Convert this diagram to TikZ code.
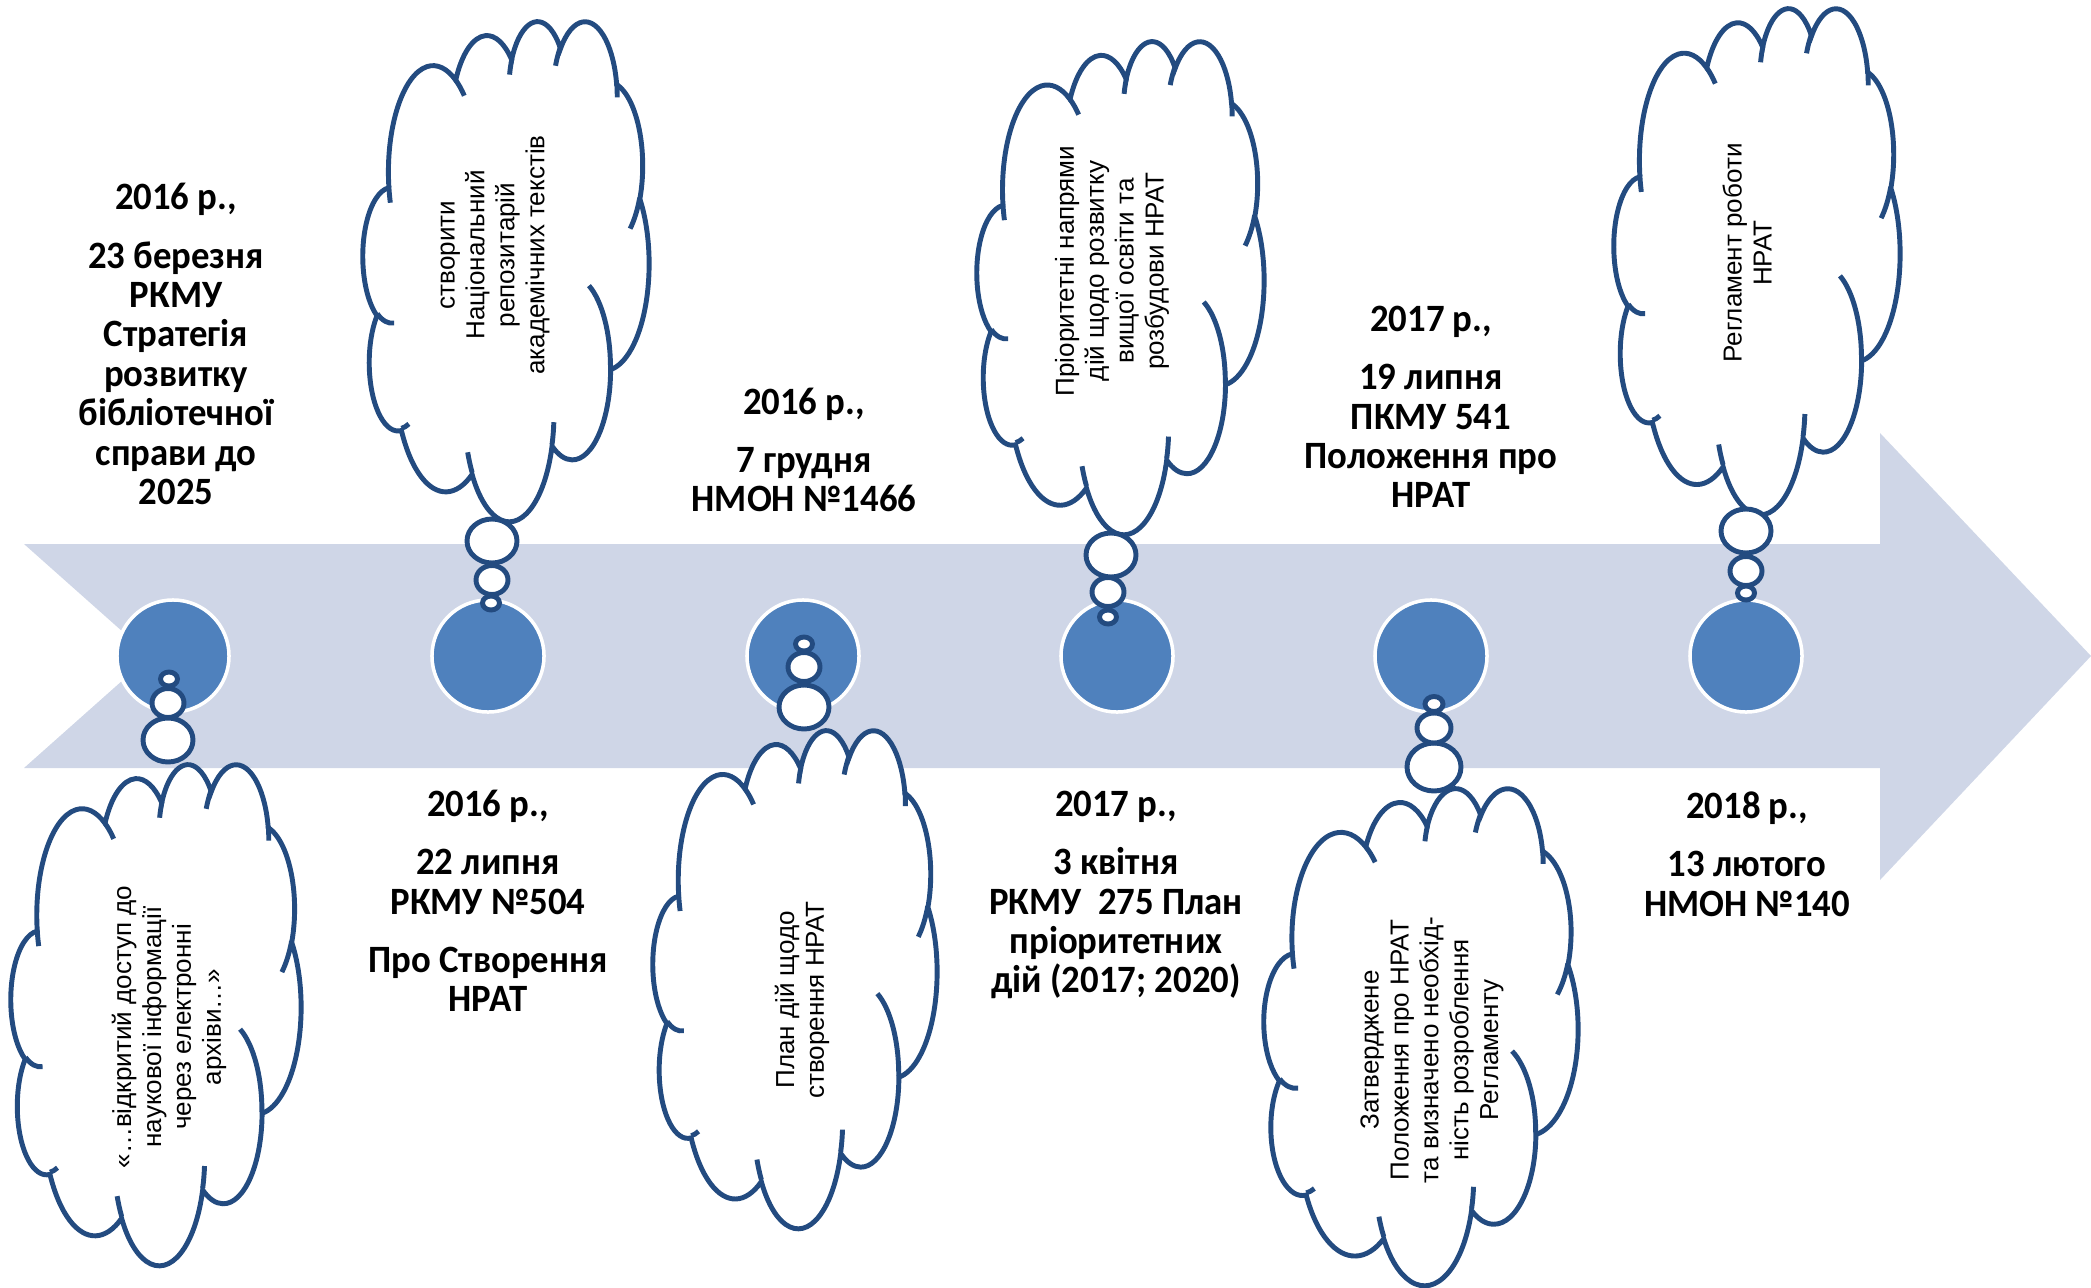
\documentclass[tikz,border=0pt]{standalone}
\usepackage{fontspec}
\newfontfamily\datefont{Carlito}[FakeStretch=0.95]
\newfontfamily\cloudfont{Liberation Sans}
\usepackage{tikz}
\usetikzlibrary{calc}
\definecolor{bandblue}{RGB}{207,214,231}
\definecolor{dotblue}{RGB}{79,129,189}
\definecolor{cloudblue}{RGB}{35,75,128}
\tikzset{
	cloud line/.style={draw=cloudblue, line width=1.4pt},
	dot/.style={circle, fill=dotblue, draw=white, line width=1pt, minimum size=1.12cm, inner sep=0pt},
	datelbl/.style={align=center, font=\datefont\bfseries\fontsize{11}{11.2}\selectfont},
	thought/.style={align=center, rotate=90, font=\cloudfont\fontsize{7.4}{8.5}\selectfont}
}
% cloud in a 432 x 432 box, top-left corner (#1,#2), size (#3,#4)
\def\nratcloud(#1,#2)(#3,#4){%
	\begin{scope}[shift={(#1,#2)}, xscale=#3/432, yscale=#4/432]
		\draw[cloud line, fill=white] (39,143.7)
			\foreach \rx/\ry/\sa/\sw in {67.53/91.90/-190.4875/123.7805, 53.33/72.67/-144.1024/89.9452,
				43.65/59.45/-145.8079/99.7230, 48.57/65.95/-130.9861/117.2417, 53.33/72.73/-78.7089/109.0269,
				67.75/92.20/-46.2673/130.2690, 57.85/78.67/0.6250/114.0333, 67.52/92.15/22.4516/115.1726,
				77.20/105.43/66.2426/75.7110, 43.60/59.18/-274.9421/146.7356, 43.45/59.45/-246.8285/152.5189}
			{arc[start angle={atan2(\rx*sin(\sa),\ry*cos(\sa))},
				delta angle={mod(atan2(\rx*sin(\sa+\sw),\ry*cos(\sa+\sw))-atan2(\rx*sin(\sa),\ry*cos(\sa))+720,360)},
				x radius=\rx, y radius=\ry]} -- cycle;
		\foreach \px/\py/\rx/\ry/\sa/\sw in {46.93/261.77/43.45/59.45/86.7420/26.4295,
			69.28/348.99/43.60/59.18/73.6105/11.4475, 164.78/390.90/67.52/92.15/137.6242/14.0811,
			288.27/347.51/67.52/92.15/6.4533/15.9984, 341.29/229.54/57.85/78.67/-70.2924/70.9174,
			417.98/153.54/53.33/72.73/30.3180/27.7515, 383.24/54.26/48.57/65.95/-13.7443/14.8589,
			290.78/39.52/48.57/65.95/-149.1815/18.1954, 221.41/47.20/43.65/59.45/-163.4943/17.6864,
			140.00/51.92/67.53/91.90/-66.7070/12.3194, 41.27/157.89/67.53/91.90/157.6544/11.8582}
			\draw[cloud line] (\px,\py) arc[start angle={atan2(\rx*sin(\sa),\ry*cos(\sa))},
				delta angle={mod(atan2(\rx*sin(\sa+\sw),\ry*cos(\sa+\sw))-atan2(\rx*sin(\sa),\ry*cos(\sa))+720,360)},
				x radius=\rx, y radius=\ry];
	\end{scope}}

\begin{document}
\begin{tikzpicture}[x=0.01cm, y=-0.01cm]
				%%%%% START %%%%%
				\useasboundingbox (0,0) rectangle (2091,1288);
				
				% the time arrow
				\fill[bandblue] (24,544) -- (1880,544) -- (1880,433) -- (2091,656) -- (1880,880)
					-- (1880,768) -- (24,768) -- (150,656) -- cycle;
				
				\node[dot] (c1) at (173,656) {};
				\node[dot] (c2) at (488,656) {};
				\node[dot] (c3) at (803,656) {};
				\node[dot] (c4) at (1117,656) {};
				\node[dot] (c5) at (1431,656) {};
				\node[dot] (c6) at (1746,656) {};
				
				% dates
				\node[datelbl] (t1) at (176,344) {2016 р.,\\[5.4pt] 23 березня\\ РКМУ\\ Стратегія\\ розвитку\\ бібліотечної\\ справи до\\ 2025};
				\node[datelbl] (t2) at (488,901) {2016 р.,\\[5.4pt] 22 липня\\ РКМУ №504\\[5.4pt] Про Створення\\ НРАТ};
				\node[datelbl] (t3) at (804,450) {2016 р.,\\[5.4pt] 7 грудня\\ НМОН №1466};
				\node[datelbl] (t4) at (1116,895) {2017 р.,\\[5.4pt] 3 квітня\\ РКМУ\ \ 275 План\\ пріоритетних\\ дій (2017; 2020)};
				\node[datelbl] (t5) at (1431,407) {2017 р.,\\[5.4pt] 19 липня\\ ПКМУ 541\\ Положення про\\ НРАТ};
				\node[datelbl] (t6) at (1747,854) {2018 р.,\\[5.4pt] 13 лютого\\ НМОН №140};
				
				% clouds
				\nratcloud(11,763)(290,501)
				\nratcloud(363,20)(286,500)
				\nratcloud(653,729)(284,498)
				\nratcloud(977,40)(287,493)
				\nratcloud(1264,787)(314,497)
				\nratcloud(1614,7)(286,506)
				
				% bubbles
				\draw[cloud line, fill=white] (168,740) ellipse [x radius=25, y radius=22];
				\draw[cloud line, fill=white] (168,703) ellipse [x radius=16, y radius=14.5];
				\draw[cloud line, fill=white] (169,679) ellipse [x radius=8.5, y radius=7];
				
				\draw[cloud line, fill=white] (492,541) ellipse [x radius=25, y radius=22];
				\draw[cloud line, fill=white] (492,580) ellipse [x radius=16, y radius=14.5];
				\draw[cloud line, fill=white] (491,603) ellipse [x radius=8.5, y radius=7];
				
				\draw[cloud line, fill=white] (804,707) ellipse [x radius=25, y radius=22];
				\draw[cloud line, fill=white] (804,667) ellipse [x radius=16, y radius=14.5];
				\draw[cloud line, fill=white] (804,644) ellipse [x radius=8.5, y radius=7];
				
				\draw[cloud line, fill=white] (1111,555) ellipse [x radius=25, y radius=22];
				\draw[cloud line, fill=white] (1108,592) ellipse [x radius=16, y radius=14.5];
				\draw[cloud line, fill=white] (1108,617) ellipse [x radius=8.5, y radius=7];
				
				\draw[cloud line, fill=white] (1434,767) ellipse [x radius=27, y radius=24];
				\draw[cloud line, fill=white] (1434,728) ellipse [x radius=17, y radius=15];
				\draw[cloud line, fill=white] (1434,704) ellipse [x radius=9, y radius=7.5];
				
				\draw[cloud line, fill=white] (1746,531) ellipse [x radius=25, y radius=22];
				\draw[cloud line, fill=white] (1746,571) ellipse [x radius=16, y radius=14.5];
				\draw[cloud line, fill=white] (1746,593) ellipse [x radius=8.5, y radius=7];
				
				% texts in the clouds
				\node[thought] (n1) at (169,1027) {«…відкритий доступ до\\ наукової інформації\\ через електронні\\ архіви…»};
				\node[thought] (n2) at (495,255) {створити\\ Національний\\ репозитарій\\ академічних текстів};
				\node[thought] (n3) at (802,1000) {План дій щодо\\ створення НРАТ};
				\node[thought] (n4) at (1112,271) {Пріоритетні напрями\\ дій щодо розвитку\\ вищої освіти та\\ розбудови НРАТ};
				\node[thought] (n5) at (1432,1050) {Затверджене\\ Положення про НРАТ\\ та визначено необхід-\\ність розроблення\\ Регламенту};
				\node[thought] (n6) at (1747,253) {Регламент роботи\\ НРАТ};
				%%%%% END %%%%%
\end{tikzpicture}
\end{document}
